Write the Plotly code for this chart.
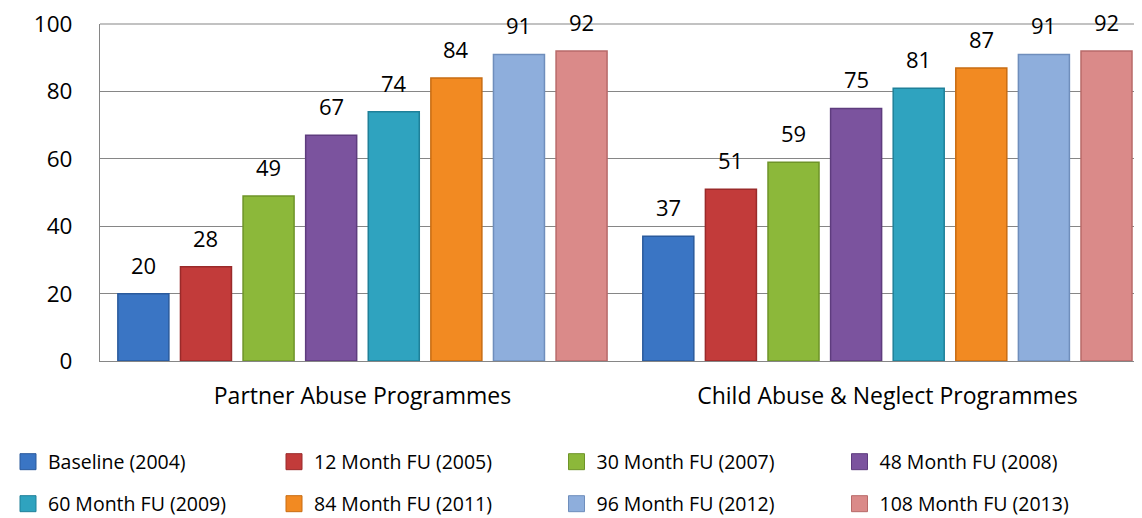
import plotly.graph_objects as go

# Dados
CATEGORIAS = ["Partner Abuse Programmes", "Child Abuse & Neglect Programmes"]
SERIES = [
    "Baseline (2004)", "12 Month FU (2005)", "30 Month FU (2007)", "48 Month FU (2008)",
    "60 Month FU (2009)", "84 Month FU (2011)", "96 Month FU (2012)", "108 Month FU (2013)",
]
PARTNER = [20, 28, 49, 67, 74, 84, 91, 92]
CHILD = [37, 51, 59, 75, 81, 87, 91, 92]

CORES = [
    "#3A75C4", "#C23B3A", "#8CB83A", "#7B539E",
    "#2FA3BF", "#F28A22", "#8EAEDC", "#DA8A89",
]
CORES_BORDA = [
    "#2A5A9C", "#9A2A2A", "#6E9428", "#5E3C7E",
    "#1F8099", "#C86C12", "#6F8EBC", "#B86A69",
]

FONTE = "Open Sans"
W, H = 1134, 510  # a pagina tem 8px de margem no body
BARGAP = 0.046
N = len(SERIES)

# posicao das legendas (4 colunas x 2 linhas)
LEG_X = [-16.5, 266, 548.5, 831.5]
LEG_Y = [454, 496]

fig = go.Figure()
for i, nome in enumerate(SERIES):
    valores = [PARTNER[i], CHILD[i]]
    fig.add_trace(
        go.Bar(
            name=nome,
            x=CATEGORIAS,
            y=valores,
            marker=dict(color=CORES[i], line=dict(color=CORES_BORDA[i], width=1.5)),
            showlegend=False,
        )
    )
    # rotulos de valor acima das barras (afastados do topo como no original)
    slot = (1 - BARGAP) / N
    for j, v in enumerate(valores):
        fig.add_annotation(
            x=j + (i - (N - 1) / 2) * slot, y=v, xref="x", yref="y",
            text=str(v), showarrow=False, yanchor="bottom", yshift=12,
            font=dict(size=22, color="#000000", family=FONTE),
        )

# entradas de legenda (quadrados maiores que o simbolo padrao de barra)
legendas = {}
for i, nome in enumerate(SERIES):
    chave = "legend" if i == 0 else f"legend{i + 1}"
    fig.add_trace(
        go.Scatter(
            x=[None], y=[None], mode="markers", name=nome,
            marker=dict(symbol="square", size=16, color=CORES[i],
                        line=dict(color=CORES_BORDA[i], width=1)),
            legend=chave,
            hoverinfo="skip",
        )
    )
    legendas[chave] = dict(
        orientation="h",
        xref="container",
        yref="container",
        x=LEG_X[i % 4] / W,
        y=1 - LEG_Y[i // 4] / H,
        xanchor="left",
        yanchor="middle",
        itemwidth=30,
        font=dict(size=19.5, family=FONTE, color="#000000"),
        bgcolor="rgba(0,0,0,0)",
    )

# linha de grade do topo (o plotly omite a que coincide com a borda)
fig.add_shape(
    type="line", xref="paper", yref="paper", x0=0, x1=1, y0=1, y1=1,
    line=dict(color="#868686", width=1.2), layer="above",
)

fig.update_layout(
    width=W,
    height=H,
    barmode="group",
    bargap=BARGAP,
    bargroupgap=0.185,
    plot_bgcolor="#FFFFFF",
    paper_bgcolor="#FFFFFF",
    font=dict(family=FONTE, size=22, color="#000000"),
    margin=dict(l=92, r=0, t=16, b=157, autoexpand=False),
    showlegend=True,
    xaxis=dict(
        range=[-0.5, 1.485],
        showline=True,
        linecolor="#868686",
        linewidth=1.2,
        ticks="",
        tickfont=dict(size=23),
        ticklabelstandoff=14,
    ),
    yaxis=dict(
        range=[0, 100.05],
        tickmode="array",
        tickvals=[0, 20, 40, 60, 80, 100],
        showgrid=True,
        gridcolor="#868686",
        gridwidth=1.2,
        showline=True,
        linecolor="#868686",
        linewidth=1.2,
        ticks="",
        tickfont=dict(size=22.5),
        ticklabelstandoff=22,
        zeroline=False,
    ),
    **legendas,
)

fig.write_html("out.html")
